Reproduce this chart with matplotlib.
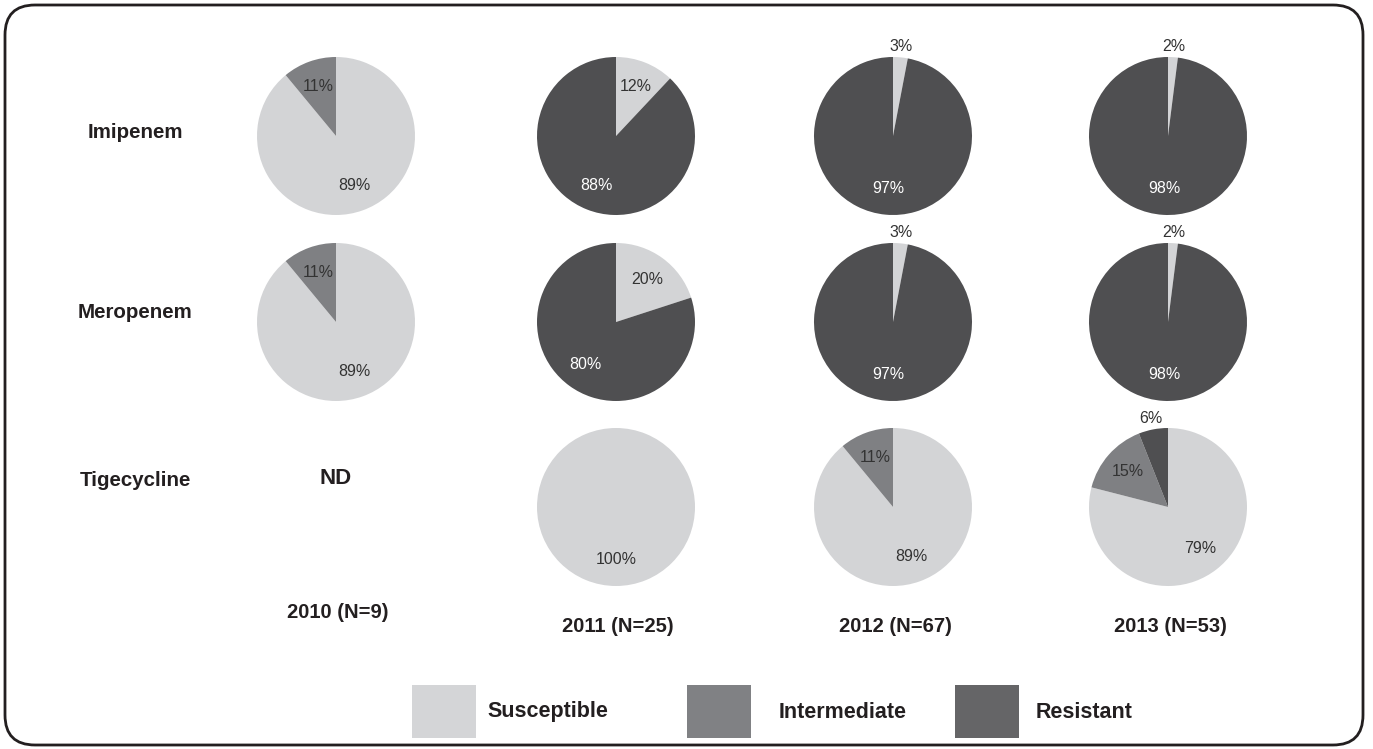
import matplotlib
matplotlib.use("Agg")
import matplotlib.pyplot as plt
from matplotlib.patches import FancyBboxPatch, Rectangle
import numpy as np

plt.rcParams['font.family'] = ['Liberation Sans', 'DejaVu Sans']

W, H = 1373, 749

years = ["2010 (N=9)", "2011 (N=25)", "2012 (N=67)", "2013 (N=53)"]
drugs = ["Imipenem", "Meropenem", "Tigecycline"]
categories = ["Susceptible", "Intermediate", "Resistant"]

# values per drug, per year: [Susceptible, Intermediate, Resistant]; None = ND
imipenem = [[89, 11, 0], [12, 0, 88], [3, 0, 97], [2, 0, 98]]
meropenem = [[89, 11, 0], [20, 0, 80], [3, 0, 97], [2, 0, 98]]
tigecycline = [None, [100, 0, 0], [89, 11, 0], [79, 15, 6]]
data = [imipenem, meropenem, tigecycline]

pie_colors = ["#d3d4d6", "#7f8083", "#4f4f51"]
legend_colors = ["#d4d5d7", "#808184", "#656567"]
text_colors = ["#333333", "#333333", "#ffffff"]

col_x = [336, 616, 893, 1168]
row_y = [136, 322, 507]
radius = 79

fig = plt.figure(figsize=(W / 100, H / 100), dpi=100)
ax = fig.add_axes([0, 0, 1, 1])

for r, drug_vals in enumerate(data):
    for c, vals in enumerate(drug_vals):
        cx, cy = col_x[c], H - row_y[r]
        if vals is None:
            ax.text(cx, H - 479, "ND", ha="center", va="center", fontsize=16,
                    fontweight="bold", color="#231f20")
            continue
        idx = [i for i, v in enumerate(vals) if v > 0]
        vs = [vals[i] for i in idx]
        cols = [pie_colors[i] for i in idx]
        wedges, _ = ax.pie(vs, colors=cols, startangle=90, counterclock=False,
                           center=(cx, cy), radius=radius,
                           wedgeprops=dict(linewidth=0), frame=True)
        for w, v, i in zip(wedges, vs, idx):
            ang = np.deg2rad((w.theta1 + w.theta2) / 2)
            if v < 7:
                d = 1.14
                tc = "#333333"
            else:
                d = 0.67
                tc = text_colors[i]
            ax.text(cx + d * radius * np.cos(ang), cy + d * radius * np.sin(ang),
                    f"{v}%", ha="center", va="center", fontsize=11.5, color=tc)

# row labels
row_label_y = [133, 312, 480]
for r, drug in enumerate(drugs):
    ax.text(135, H - row_label_y[r], drug, ha="center", va="center",
            fontsize=14.8, fontweight="bold", color="#231f20")

# year labels
year_y = [612, 627, 627, 627]
for c, y in enumerate(years):
    ax.text(col_x[c] + 2, H - year_y[c], y, ha="center", va="center",
            fontsize=14.5, fontweight="bold", color="#231f20")

# legend
leg_x = [412, 687, 955]
txt_x = [487, 779, 1036]
for i, cat in enumerate(categories):
    ax.add_patch(Rectangle((leg_x[i], H - 738), 64, 53, facecolor=legend_colors[i],
                           edgecolor="none"))
    ax.text(txt_x[i], H - 712, cat, ha="left", va="center", fontsize=15.5,
            fontweight="bold", color="#231f20")

# rounded border
ax.add_patch(FancyBboxPatch((5, 4), 1358, 740,
                            boxstyle="round,pad=0,rounding_size=30",
                            facecolor="none", edgecolor="#231f20", linewidth=2.0))

ax.set_xlim(0, W)
ax.set_ylim(0, H)
ax.set_aspect("auto")
ax.axis("off")

fig.savefig("out.png", dpi=100)
